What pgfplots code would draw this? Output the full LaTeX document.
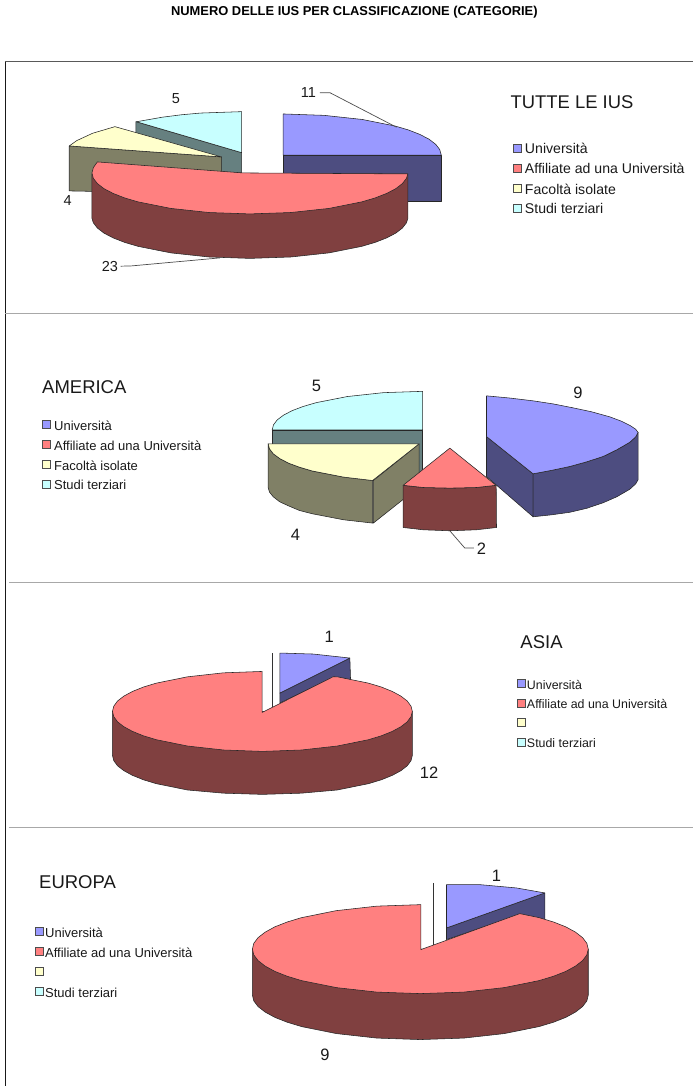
\documentclass[border=0pt]{standalone}
\usepackage{fontspec}
\setmainfont{Liberation Sans}
\usepackage{pgfplots}
\pgfplotsset{compat=1.18}
\definecolor{univ}{HTML}{9999FF}
\definecolor{univd}{HTML}{4D4D80}
\definecolor{affi}{HTML}{FF8080}
\definecolor{affid}{HTML}{804040}
\definecolor{faco}{HTML}{FFFFCC}
\definecolor{facod}{HTML}{808066}
\definecolor{stud}{HTML}{C8FFFF}
\definecolor{studd}{HTML}{668080}
\definecolor{rule}{HTML}{A8A8A8}
\pgfplotsset{
  face/.style={draw=black!85, line width=0.55pt, line join=round, fill=#1},
  leader/.style={draw=black!70, line width=0.7pt},
  key/.style={only marks, mark=square*, mark size=4pt,
              mark options={fill=#1, draw=black!70, line width=0.6pt}},
}
\newcommand{\txt}[4]{\node[anchor=#1, inner sep=0pt, font=\fontsize{#4}{#4}\selectfont, text=black!90] at (axis cs:#2) {#3};}
\begin{document}
\begin{tikzpicture}
\begin{axis}[
  scale only axis, width=693pt, height=1086pt,
  xmin=0, xmax=693, ymin=0, ymax=1086, y dir=reverse,
  axis lines=none, clip=false,
]
% keeps the full page in the bounding box
\addplot[draw=none] coordinates {(0,0) (693,1086)};
% ruling of the page
\addplot[draw=black!65, line width=1pt] coordinates {(5,62) (693,62)};
\addplot[draw=black!90, line width=0.9pt] coordinates {(5.5,62) (5.5,1086)};
\addplot[draw=rule, line width=0.8pt] coordinates {(5,313.5) (693,313.5)};
\addplot[draw=rule, line width=1pt] coordinates {(9,583) (693,583)};
\addplot[draw=rule, line width=1pt] coordinates {(9,828) (693,828)};
\node[anchor=center, inner sep=0pt, font=\fontsize{12.9}{12}\selectfont\bfseries, text=black] at (axis cs:354.5,12) {NUMERO DELLE IUS PER CLASSIFICAZIONE (CATEGORIE)};

% --- TUTTE LE IUS ---
\addplot[face=studd] coordinates {(136,121.7) (241.7,152.7) (241.7,173) (222,173) (136,145)} -- cycle;
\addplot[face=stud] coordinates {(136.5,121.8) (162.7,117.2) (181.7,114.8) (200.8,113.1) (241.7,111.7) (241.7,152.7)} -- cycle;
\addplot[face=facod] coordinates {(69.3,146) (221.7,157) (221.7,175) (95,191.5) (69.3,191)} -- cycle;
\addplot[face=faco] coordinates {(69.3,146) (76.7,140.7) (92.7,133.3) (115,126.7) (221.7,157)} -- cycle;
\addplot[face=univd] coordinates {(283.3,155.3) (441.5,155.3) (441.5,201.7) (283.3,201.7)} -- cycle;
\addplot[face=univ] coordinates {(283.3,114) (324.2,115.4) (362.3,119.5) (395,126) (408.6,130) (420.1,134.5) (429.3,139.3) (435.9,144.4) (439.9,149.6) (441.5,155.3) (283.3,155.3)} -- cycle;
\addplot[face=affid] coordinates {(408,174) (408,218.5) (406.6,222.9) (402.6,228.1) (396,233.2) (386.8,238) (375.3,242.5) (361.7,246.5) (329,253) (290.9,257.1) (250,258.5) (209.1,257.1) (171,253) (138.3,246.5) (124.7,242.5) (113.2,238) (104,233.2) (97.4,228.1) (93.4,222.9) (92,218.5) (92,174)} -- cycle;
\addplot[face=affi] coordinates {(408,174) (406.6,178.4) (402.6,183.6) (396,188.7) (386.8,193.5) (375.3,198) (361.7,202) (329,208.5) (290.9,212.6) (250,214) (209.1,212.6) (171,208.5) (138.3,202) (124.7,198) (113.2,193.5) (104,188.7) (97.4,183.6) (93.4,178.4) (92,173) (93.4,167.6) (97.4,162) (243,173)} -- cycle;
\addplot[leader] coordinates {(396.7,127.3) (330,92.7) (320,92.7)};
\addplot[leader] coordinates {(120.7,266.3) (131.7,266) (220,258)};
\txt{center}{308.5,93}{11}{14.5}
\txt{center}{176,98.5}{5}{14.5}
\txt{center}{67.7,200.5}{4}{14.5}
\txt{center}{110,266.7}{23}{14.5}
\txt{west}{510.7,102}{TUTTE LE IUS}{18.4}
\addplot[key=univ] coordinates {(517.3,148.3)};
\addplot[key=affi] coordinates {(517.3,168.3)};
\addplot[key=faco] coordinates {(517.3,188.3)};
\addplot[key=stud] coordinates {(517.3,208.3)};
\txt{west}{525,148.5}{Università}{14.1}
\txt{west}{525,168.5}{Affiliate ad una Università}{14.1}
\txt{west}{525,189}{Facoltà isolate}{14.1}
\txt{west}{525,209}{Studi terziari}{14.1}

% --- AMERICA ---
\addplot[face=studd] coordinates {(272.3,430) (422.7,430) (422.7,472) (272.3,472)} -- cycle;
\addplot[face=stud] coordinates {(272.3,430) (273.6,425) (277.4,420) (283.7,415.3) (292.5,410.7) (303.4,406.6) (316.4,402.8) (347.5,396.7) (383.7,392.8) (422.7,391.5) (422.7,430)} -- cycle;
\addplot[face=facod] coordinates {(373.5,480.7) (419.3,444) (419.3,487) (373.5,523.3)} -- cycle;
\addplot[face=facod] coordinates {(268.3,444) (269.6,449) (273.4,454) (279.8,458.7) (288.5,463.3) (299.6,467.4) (312.5,471.2) (343.8,477.3) (372.7,480.7) (372.7,523.3) (343.8,520) (312.5,514) (299.6,510.7) (288.5,506) (279.8,502) (273.4,497) (269.6,492.3) (268.3,488)} -- cycle;
\addplot[face=faco] coordinates {(268.3,444) (269.6,449) (273.4,454) (279.8,458.7) (288.5,463.3) (299.6,467.4) (312.5,471.2) (343.8,477.3) (372.7,480.7) (419.3,444)} -- cycle;
\addplot[face=affid] coordinates {(403.3,485.5) (423.3,487.7) (450,488.3) (476.7,487.7) (496.4,485.5) (496.7,527.7) (476.7,530) (450,531) (423.3,530) (403.3,527.7)} -- cycle;
\addplot[face=affi] coordinates {(450,448.3) (496.2,485.5) (476.7,487.7) (450,488.3) (423.3,487.7) (403.3,485.5)} -- cycle;
\addplot[face=univd] coordinates {(486.7,436.7) (533.3,474) (533.3,517) (486.7,476.7)} -- cycle;
\addplot[face=univd] coordinates {(638.3,432.5) (636,437) (630,442.5) (617,450) (603.3,456.7) (587,462) (570,466.7) (552,470.5) (533.3,474) (533.3,517) (552,515) (570,512.5) (587,508.5) (603.3,503) (617,497) (630,489.5) (636,484) (638.3,480)} -- cycle;
\addplot[face=univ] coordinates {(486.7,396) (510,398.2) (533.3,401) (553,404) (573.3,408) (592,412) (610,417) (622,421.5) (630,425.5) (636,429.5) (638.3,432.5) (636,437) (630,442.5) (617,450) (603.3,456.7) (587,462) (570,466.7) (552,470.5) (533.3,474) (486.7,436.7)} -- cycle;
\addplot[leader] coordinates {(450,531) (465,548.3) (474,548.3)};
\txt{center}{316.7,386}{5}{16.5}
\txt{center}{578.3,393.3}{9}{16.5}
\txt{center}{295.7,535}{4}{16.5}
\txt{center}{481.7,549}{2}{16.5}
\txt{west}{42,387}{AMERICA}{18.5}
\addplot[key=univ] coordinates {(46,424.5)};
\addplot[key=affi] coordinates {(46,444.5)};
\addplot[key=faco] coordinates {(46,464.5)};
\addplot[key=stud] coordinates {(46,484.5)};
\txt{west}{54,425.5}{Università}{13}
\txt{west}{54,445.5}{Affiliate ad una Università}{13}
\txt{west}{54,465.5}{Facoltà isolate}{13}
\txt{west}{54,485.5}{Studi terziari}{13}

% --- ASIA ---
\addplot[face=univd] coordinates {(280,693.3) (350,658.3) (350.7,680) (333.3,678) (280,703.3)} -- cycle;
\addplot[face=univ] coordinates {(280,653.3) (313.3,654.3) (350,658.3) (280,693.3)} -- cycle;
\addplot[draw=black!80, line width=0.7pt] coordinates {(272,653.3) (272,707)};
\addplot[face=affid] coordinates {(412.5,711.7) (412.5,755.7) (411.2,760.9) (407.4,766.1) (401.1,771) (392.4,775.7) (381.5,780.1) (368.6,784) (337.5,790.3) (301.4,793.5) (262.5,794.7) (223.6,793.5) (187.5,790.3) (156.4,784) (143.5,780.1) (132.6,775.7) (123.9,771) (117.6,766.1) (113.8,760.9) (112.5,755.7) (112.5,711.7)} -- cycle;
\addplot[face=affi] coordinates {(262.3,712.7) (333.3,677) (337.5,677.1) (368.6,683.4) (381.5,687.3) (392.4,691.7) (401.1,696.4) (407.4,701.3) (411.2,706.5) (412.5,711.7) (411.2,716.9) (407.4,722.1) (401.1,727) (392.4,731.7) (381.5,736.1) (368.6,740) (337.5,746.3) (301.4,750.3) (262.5,751.7) (223.6,750.3) (187.5,746.3) (156.4,740) (143.5,736.1) (132.6,731.7) (123.9,727) (117.6,722.1) (113.8,716.9) (112.5,711.7) (113.8,706.5) (117.6,701.3) (123.9,696.4) (132.6,691.7) (143.5,687.3) (156.4,683.4) (187.5,677.1) (223.6,673.1) (262.3,671.7)} -- cycle;
\txt{center}{329.3,636.7}{1}{16.5}
\txt{center}{429.3,773.3}{12}{16.5}
\txt{west}{520.5,642}{ASIA}{18.5}
\addplot[key=univ] coordinates {(522,683.5)};
\addplot[key=affi] coordinates {(522,703.5)};
\addplot[key=faco] coordinates {(522,723)};
\addplot[key=stud] coordinates {(522,742.5)};
\txt{west}{527,685}{Università}{12.4}
\txt{west}{527,704}{Affiliate ad una Università}{12.4}
\txt{west}{527,743.5}{Studi terziari}{12.4}

% --- EUROPA ---
\addplot[face=univd] coordinates {(446.7,928.3) (545,893.3) (545,920) (520,915) (446.7,940)} -- cycle;
\addplot[face=univ] coordinates {(446.7,885) (480,885) (516.7,888.3) (545,893.3) (446.7,928.3)} -- cycle;
\addplot[draw=black!80, line width=0.7pt] coordinates {(433.3,883.3) (433.3,945)};
\addplot[face=affid] coordinates {(588.5,949.5) (588.5,995.5) (587.1,1001.3) (582.8,1007) (575.7,1012.5) (566,1017.8) (553.8,1022.6) (539.3,1027) (504.5,1034) (464,1038.5) (420.5,1040) (377,1038.5) (336.5,1034) (301.7,1027) (287.2,1022.6) (275,1017.8) (265.3,1012.5) (258.2,1007) (253.9,1001.3) (252.5,995.5) (252.5,949.5)} -- cycle;
\addplot[face=affi] coordinates {(421,950) (520,914) (539.3,918) (553.8,922.4) (566,927.2) (575.7,932.5) (582.8,938) (587.1,943.7) (588.5,949.5) (587.1,955.3) (582.8,961) (575.7,966.5) (566,971.8) (553.8,976.6) (539.3,981) (504.5,988) (464,992.5) (420.5,994) (377,992.5) (336.5,988) (301.7,981) (287.2,976.6) (275,971.8) (265.3,966.5) (258.2,961) (253.9,955.3) (252.5,949.5) (253.9,943.7) (258.2,938) (265.3,932.5) (275,927.2) (287.2,922.4) (301.7,918) (336.5,911) (377,906.5) (421,905)} -- cycle;
\txt{center}{496.7,875.7}{1}{16.5}
\txt{center}{325,1055}{9}{16.5}
\txt{west}{39,882}{EUROPA}{18.5}
\addplot[key=univ] coordinates {(39.5,932)};
\addplot[key=affi] coordinates {(39.5,951.5)};
\addplot[key=faco] coordinates {(39.5,972)};
\addplot[key=stud] coordinates {(39.5,992)};
\txt{west}{45,933}{Università}{13}
\txt{west}{45,953}{Affiliate ad una Università}{13}
\txt{west}{45,993}{Studi terziari}{13}
\end{axis}
\end{tikzpicture}
\end{document}
